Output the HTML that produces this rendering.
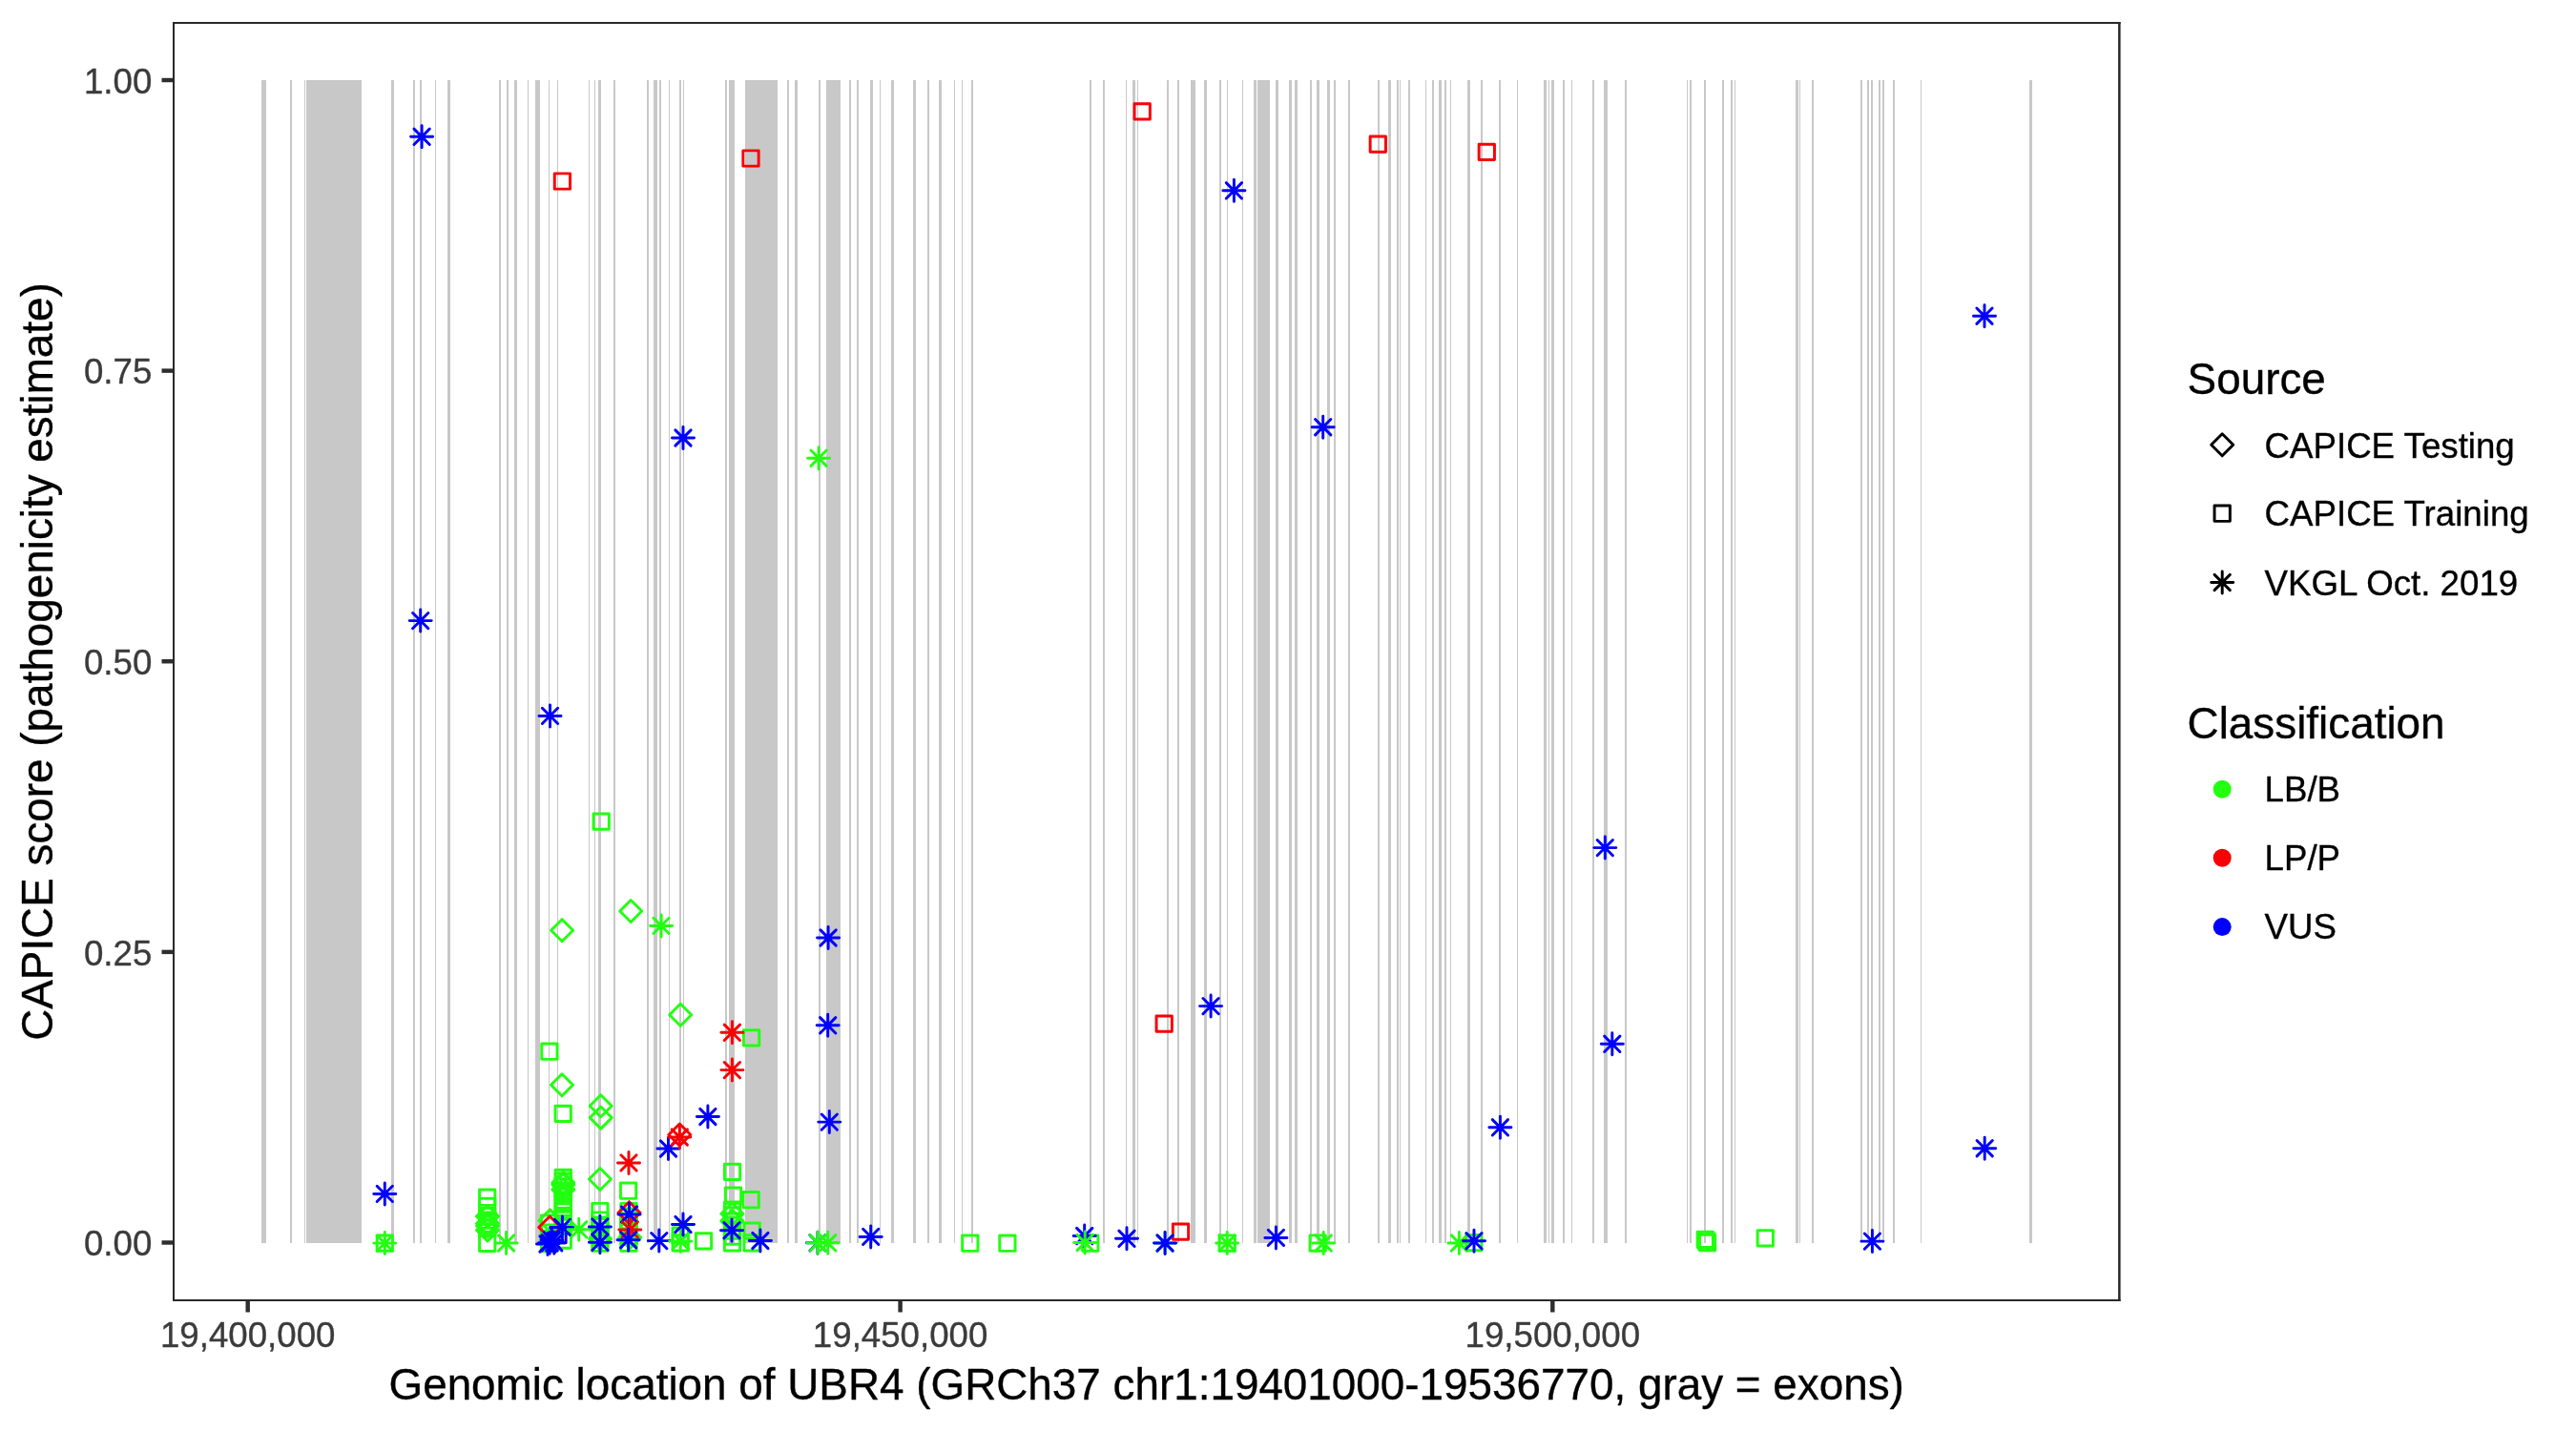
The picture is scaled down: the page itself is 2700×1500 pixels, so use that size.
<!DOCTYPE html>
<html><head><meta charset="utf-8"><title>CAPICE UBR4</title>
<style>html,body{margin:0;padding:0;background:#fff;}svg{display:block;will-change:transform;}text{font-family:"Liberation Sans",Arial,Helvetica,sans-serif;stroke-width:0.35px;stroke-linejoin:round;}.tl text{stroke:#3b3b3b;} .bk text, text.bk{stroke:#000;}</style></head><body>
<svg width="2700" height="1500" viewBox="0 0 2700 1500">
<rect x="0" y="0" width="2700" height="1500" fill="#ffffff"/>
<defs><clipPath id="pc"><rect x="181.0" y="23.0" width="2041.5" height="1341.0"/></clipPath></defs>
<g fill="#c8c8c8" shape-rendering="crispEdges">
<rect x="274.2" y="84" width="4.6" height="1218.5"/>
<rect x="304.1" y="84" width="1.7" height="1218.5"/>
<rect x="319" y="84" width="0.9" height="1218.5"/>
<rect x="321.2" y="84" width="57.6" height="1218.5"/>
<rect x="410" y="84" width="3" height="1218.5"/>
<rect x="433" y="84" width="2" height="1218.5"/>
<rect x="440" y="84" width="2" height="1218.5"/>
<rect x="456" y="84" width="1" height="1218.5"/>
<rect x="469" y="84" width="3" height="1218.5"/>
<rect x="523" y="84" width="2" height="1218.5"/>
<rect x="531" y="84" width="2" height="1218.5"/>
<rect x="539" y="84" width="3" height="1218.5"/>
<rect x="553" y="84" width="1" height="1218.5"/>
<rect x="561" y="84" width="5" height="1218.5"/>
<rect x="575" y="84" width="1" height="1218.5"/>
<rect x="584" y="84" width="1" height="1218.5"/>
<rect x="617" y="84" width="1" height="1218.5"/>
<rect x="623" y="84" width="1" height="1218.5"/>
<rect x="627" y="84" width="3" height="1218.5"/>
<rect x="643" y="84" width="2" height="1218.5"/>
<rect x="678" y="84" width="2" height="1218.5"/>
<rect x="685" y="84" width="4" height="1218.5"/>
<rect x="691" y="84" width="2" height="1218.5"/>
<rect x="701" y="84" width="1" height="1218.5"/>
<rect x="712" y="84" width="2" height="1218.5"/>
<rect x="716" y="84" width="1" height="1218.5"/>
<rect x="760" y="84" width="2" height="1218.5"/>
<rect x="764" y="84" width="6" height="1218.5"/>
<rect x="781" y="84" width="34" height="1218.5"/>
<rect x="825" y="84" width="2" height="1218.5"/>
<rect x="833" y="84" width="3" height="1218.5"/>
<rect x="858" y="84" width="2" height="1218.5"/>
<rect x="866" y="84" width="15" height="1218.5"/>
<rect x="890" y="84" width="2" height="1218.5"/>
<rect x="898" y="84" width="2" height="1218.5"/>
<rect x="912" y="84" width="3" height="1218.5"/>
<rect x="922" y="84" width="1" height="1218.5"/>
<rect x="934" y="84" width="3" height="1218.5"/>
<rect x="957" y="84" width="3" height="1218.5"/>
<rect x="972" y="84" width="2" height="1218.5"/>
<rect x="984" y="84" width="3" height="1218.5"/>
<rect x="1000" y="84" width="1" height="1218.5"/>
<rect x="1008" y="84" width="1" height="1218.5"/>
<rect x="1018" y="84" width="2" height="1218.5"/>
<rect x="1142" y="84" width="2" height="1218.5"/>
<rect x="1156" y="84" width="2" height="1218.5"/>
<rect x="1180" y="84" width="1" height="1218.5"/>
<rect x="1187" y="84" width="3" height="1218.5"/>
<rect x="1192" y="84" width="1" height="1218.5"/>
<rect x="1223" y="84" width="2" height="1218.5"/>
<rect x="1234" y="84" width="2" height="1218.5"/>
<rect x="1248" y="84" width="5" height="1218.5"/>
<rect x="1262" y="84" width="3" height="1218.5"/>
<rect x="1278" y="84" width="2" height="1218.5"/>
<rect x="1286" y="84" width="1" height="1218.5"/>
<rect x="1302" y="84" width="1" height="1218.5"/>
<rect x="1314" y="84" width="3" height="1218.5"/>
<rect x="1318" y="84" width="13" height="1218.5"/>
<rect x="1337" y="84" width="3" height="1218.5"/>
<rect x="1351" y="84" width="3" height="1218.5"/>
<rect x="1357" y="84" width="3" height="1218.5"/>
<rect x="1373" y="84" width="2" height="1218.5"/>
<rect x="1380" y="84" width="3" height="1218.5"/>
<rect x="1391" y="84" width="3" height="1218.5"/>
<rect x="1398" y="84" width="2" height="1218.5"/>
<rect x="1413" y="84" width="2" height="1218.5"/>
<rect x="1444" y="84" width="2" height="1218.5"/>
<rect x="1455" y="84" width="3" height="1218.5"/>
<rect x="1464" y="84" width="2" height="1218.5"/>
<rect x="1467" y="84" width="1" height="1218.5"/>
<rect x="1476" y="84" width="2" height="1218.5"/>
<rect x="1494" y="84" width="1" height="1218.5"/>
<rect x="1501" y="84" width="2" height="1218.5"/>
<rect x="1508" y="84" width="3" height="1218.5"/>
<rect x="1514" y="84" width="2" height="1218.5"/>
<rect x="1520" y="84" width="1" height="1218.5"/>
<rect x="1538" y="84" width="3" height="1218.5"/>
<rect x="1552" y="84" width="2" height="1218.5"/>
<rect x="1571" y="84" width="2" height="1218.5"/>
<rect x="1590" y="84" width="1" height="1218.5"/>
<rect x="1618" y="84" width="3" height="1218.5"/>
<rect x="1623" y="84" width="1" height="1218.5"/>
<rect x="1626" y="84" width="3" height="1218.5"/>
<rect x="1638" y="84" width="2" height="1218.5"/>
<rect x="1647" y="84" width="1" height="1218.5"/>
<rect x="1669" y="84" width="2" height="1218.5"/>
<rect x="1681" y="84" width="4" height="1218.5"/>
<rect x="1703" y="84" width="2" height="1218.5"/>
<rect x="1768" y="84" width="1" height="1218.5"/>
<rect x="1771" y="84" width="2" height="1218.5"/>
<rect x="1786" y="84" width="2" height="1218.5"/>
<rect x="1805" y="84" width="2" height="1218.5"/>
<rect x="1814" y="84" width="2" height="1218.5"/>
<rect x="1818" y="84" width="1" height="1218.5"/>
<rect x="1882" y="84" width="3" height="1218.5"/>
<rect x="1886" y="84" width="1" height="1218.5"/>
<rect x="1899" y="84" width="2" height="1218.5"/>
<rect x="1950" y="84" width="2" height="1218.5"/>
<rect x="1957" y="84" width="2" height="1218.5"/>
<rect x="1961" y="84" width="2" height="1218.5"/>
<rect x="1969" y="84" width="2" height="1218.5"/>
<rect x="1973" y="84" width="2" height="1218.5"/>
<rect x="1984" y="84" width="2" height="1218.5"/>
<rect x="2013" y="84" width="1" height="1218.5"/>
<rect x="2127" y="84" width="3" height="1218.5"/>
</g>
<g clip-path="url(#pc)" fill="none" stroke-width="2.95" stroke-linecap="round" stroke-linejoin="round">
<rect x="581.25" y="181.85" width="16.29" height="16.29" stroke="#f80004"/>
<rect x="778.86" y="157.85" width="16.29" height="16.29" stroke="#f80004"/>
<rect x="1189.06" y="108.66" width="16.29" height="16.29" stroke="#f80004"/>
<rect x="1436.15" y="143.05" width="16.29" height="16.29" stroke="#f80004"/>
<rect x="1550.15" y="151.16" width="16.29" height="16.29" stroke="#f80004"/>
<rect x="622.06" y="852.96" width="16.29" height="16.29" stroke="#22ff11"/>
<rect x="1212.06" y="1064.95" width="16.29" height="16.29" stroke="#f80004"/>
<rect x="779.46" y="1079.76" width="16.29" height="16.29" stroke="#22ff11"/>
<rect x="567.75" y="1094.06" width="16.29" height="16.29" stroke="#22ff11"/>
<rect x="582.06" y="1159.26" width="16.29" height="16.29" stroke="#22ff11"/>
<rect x="395.16" y="1294.95" width="16.29" height="16.29" stroke="#22ff11"/>
<rect x="502.56" y="1247.06" width="16.29" height="16.29" stroke="#22ff11"/>
<rect x="502.56" y="1256.26" width="16.29" height="16.29" stroke="#22ff11"/>
<rect x="502.56" y="1266.36" width="16.29" height="16.29" stroke="#22ff11"/>
<rect x="502.56" y="1274.86" width="16.29" height="16.29" stroke="#22ff11"/>
<rect x="502.56" y="1295.15" width="16.29" height="16.29" stroke="#22ff11"/>
<rect x="582.15" y="1226.26" width="16.29" height="16.29" stroke="#22ff11"/>
<rect x="582.15" y="1235.86" width="16.29" height="16.29" stroke="#22ff11"/>
<rect x="582.15" y="1243.86" width="16.29" height="16.29" stroke="#22ff11"/>
<rect x="582.15" y="1249.86" width="16.29" height="16.29" stroke="#22ff11"/>
<rect x="582.15" y="1257.86" width="16.29" height="16.29" stroke="#22ff11"/>
<rect x="582.15" y="1267.86" width="16.29" height="16.29" stroke="#22ff11"/>
<rect x="582.15" y="1276.86" width="16.29" height="16.29" stroke="#22ff11"/>
<rect x="582.15" y="1291.86" width="16.29" height="16.29" stroke="#22ff11"/>
<rect x="567.36" y="1273.86" width="16.29" height="16.29" stroke="#22ff11"/>
<rect x="567.36" y="1283.86" width="16.29" height="16.29" stroke="#22ff11"/>
<rect x="567.36" y="1295.36" width="16.29" height="16.29" stroke="#22ff11"/>
<rect x="576.86" y="1286.36" width="16.29" height="16.29" stroke="#0000ff"/>
<rect x="620.75" y="1261.36" width="16.29" height="16.29" stroke="#22ff11"/>
<rect x="620.75" y="1270.86" width="16.29" height="16.29" stroke="#22ff11"/>
<rect x="620.75" y="1281.86" width="16.29" height="16.29" stroke="#22ff11"/>
<rect x="620.75" y="1295.06" width="16.29" height="16.29" stroke="#22ff11"/>
<rect x="650.46" y="1240.06" width="16.29" height="16.29" stroke="#22ff11"/>
<rect x="650.86" y="1261.36" width="16.29" height="16.29" stroke="#22ff11"/>
<rect x="650.86" y="1271.86" width="16.29" height="16.29" stroke="#22ff11"/>
<rect x="650.86" y="1281.86" width="16.29" height="16.29" stroke="#22ff11"/>
<rect x="650.86" y="1295.06" width="16.29" height="16.29" stroke="#22ff11"/>
<rect x="705.06" y="1286.95" width="16.29" height="16.29" stroke="#22ff11"/>
<rect x="705.06" y="1294.65" width="16.29" height="16.29" stroke="#22ff11"/>
<rect x="729.36" y="1292.65" width="16.29" height="16.29" stroke="#22ff11"/>
<rect x="759.36" y="1220.26" width="16.29" height="16.29" stroke="#22ff11"/>
<rect x="760.36" y="1244.95" width="16.29" height="16.29" stroke="#22ff11"/>
<rect x="759.36" y="1259.95" width="16.29" height="16.29" stroke="#22ff11"/>
<rect x="759.36" y="1271.86" width="16.29" height="16.29" stroke="#22ff11"/>
<rect x="759.36" y="1281.86" width="16.29" height="16.29" stroke="#22ff11"/>
<rect x="759.36" y="1294.76" width="16.29" height="16.29" stroke="#22ff11"/>
<rect x="779.06" y="1249.56" width="16.29" height="16.29" stroke="#22ff11"/>
<rect x="779.96" y="1281.95" width="16.29" height="16.29" stroke="#22ff11"/>
<rect x="779.96" y="1294.76" width="16.29" height="16.29" stroke="#22ff11"/>
<rect x="1008.65" y="1295.06" width="16.29" height="16.29" stroke="#22ff11"/>
<rect x="1047.76" y="1295.06" width="16.29" height="16.29" stroke="#22ff11"/>
<rect x="1134.65" y="1295.06" width="16.29" height="16.29" stroke="#22ff11"/>
<rect x="1229.36" y="1282.95" width="16.29" height="16.29" stroke="#f80004"/>
<rect x="1278.06" y="1294.86" width="16.29" height="16.29" stroke="#22ff11"/>
<rect x="1373.06" y="1294.86" width="16.29" height="16.29" stroke="#22ff11"/>
<rect x="1536.65" y="1294.36" width="16.29" height="16.29" stroke="#22ff11"/>
<rect x="1779.15" y="1291.26" width="16.29" height="16.29" stroke="#22ff11"/>
<rect x="1781.45" y="1294.36" width="16.29" height="16.29" stroke="#22ff11"/>
<rect x="1780.45" y="1292.86" width="16.29" height="16.29" stroke="#22ff11"/>
<rect x="1842.15" y="1289.65" width="16.29" height="16.29" stroke="#22ff11"/>
<rect x="502.56" y="1270.86" width="16.29" height="16.29" stroke="#22ff11"/>
<rect x="502.56" y="1278.86" width="16.29" height="16.29" stroke="#22ff11"/>
<rect x="582.15" y="1229.86" width="16.29" height="16.29" stroke="#22ff11"/>
<rect x="582.15" y="1239.86" width="16.29" height="16.29" stroke="#22ff11"/>
<rect x="582.15" y="1253.86" width="16.29" height="16.29" stroke="#22ff11"/>
<rect x="582.15" y="1261.86" width="16.29" height="16.29" stroke="#22ff11"/>
<rect x="620.75" y="1275.86" width="16.29" height="16.29" stroke="#22ff11"/>
<rect x="620.75" y="1287.86" width="16.29" height="16.29" stroke="#22ff11"/>
<rect x="650.86" y="1266.86" width="16.29" height="16.29" stroke="#22ff11"/>
<rect x="650.86" y="1276.86" width="16.29" height="16.29" stroke="#22ff11"/>
<rect x="650.86" y="1287.86" width="16.29" height="16.29" stroke="#22ff11"/>
<rect x="759.36" y="1265.86" width="16.29" height="16.29" stroke="#22ff11"/>
<rect x="759.36" y="1287.86" width="16.29" height="16.29" stroke="#22ff11"/>
<path d="M589.10 963.68L600.62 975.20L589.10 986.72L577.58 975.20Z" stroke="#22ff11"/>
<path d="M661.20 943.48L672.72 955.00L661.20 966.52L649.68 955.00Z" stroke="#22ff11"/>
<path d="M713.20 1052.18L724.72 1063.70L713.20 1075.22L701.68 1063.70Z" stroke="#22ff11"/>
<path d="M589.00 1125.78L600.52 1137.30L589.00 1148.82L577.48 1137.30Z" stroke="#22ff11"/>
<path d="M629.70 1147.68L641.22 1159.20L629.70 1170.72L618.18 1159.20Z" stroke="#22ff11"/>
<path d="M629.80 1160.08L641.32 1171.60L629.80 1183.12L618.28 1171.60Z" stroke="#22ff11"/>
<path d="M712.30 1177.98L723.82 1189.50L712.30 1201.02L700.78 1189.50Z" stroke="#f80004"/>
<path d="M511.00 1263.48L522.52 1275.00L511.00 1286.52L499.48 1275.00Z" stroke="#22ff11"/>
<path d="M511.00 1270.98L522.52 1282.50L511.00 1294.02L499.48 1282.50Z" stroke="#22ff11"/>
<path d="M511.00 1277.98L522.52 1289.50L511.00 1301.02L499.48 1289.50Z" stroke="#22ff11"/>
<path d="M590.30 1228.38L601.82 1239.90L590.30 1251.42L578.78 1239.90Z" stroke="#22ff11"/>
<path d="M590.30 1230.48L601.82 1242.00L590.30 1253.52L578.78 1242.00Z" stroke="#22ff11"/>
<path d="M576.50 1267.88L588.02 1279.40L576.50 1290.92L564.98 1279.40Z" stroke="#22ff11"/>
<path d="M576.20 1274.98L587.72 1286.50L576.20 1298.02L564.68 1286.50Z" stroke="#f80004"/>
<path d="M628.90 1224.48L640.42 1236.00L628.90 1247.52L617.38 1236.00Z" stroke="#22ff11"/>
<path d="M629.10 1286.98L640.62 1298.50L629.10 1310.02L617.58 1298.50Z" stroke="#22ff11"/>
<path d="M660.30 1285.68L671.82 1297.20L660.30 1308.72L648.78 1297.20Z" stroke="#22ff11"/>
<path d="M659.50 1259.68L671.02 1271.20L659.50 1282.72L647.98 1271.20Z" stroke="#f80004"/>
<path d="M767.40 1260.78L778.92 1272.30L767.40 1283.82L755.88 1272.30Z" stroke="#22ff11"/>
<path d="M767.40 1268.38L778.92 1279.90L767.40 1291.42L755.88 1279.90Z" stroke="#22ff11"/>
<path d="M511.00 1273.48L522.52 1285.00L511.00 1296.52L499.48 1285.00Z" stroke="#22ff11"/>
<path d="M590.30 1235.48L601.82 1247.00L590.30 1258.52L578.78 1247.00Z" stroke="#22ff11"/>
<path d="M433.96 135.16L450.25 151.45M433.96 151.45L450.25 135.16M430.58 143.30L453.62 143.30M442.10 131.78L442.10 154.82" stroke="#0000ff"/>
<path d="M1285.26 191.66L1301.55 207.95M1285.26 207.95L1301.55 191.66M1281.88 199.80L1304.92 199.80M1293.40 188.28L1293.40 211.32" stroke="#0000ff"/>
<path d="M2071.86 323.06L2088.14 339.34M2071.86 339.34L2088.14 323.06M2068.48 331.20L2091.52 331.20M2080.00 319.68L2080.00 342.72" stroke="#0000ff"/>
<path d="M707.86 450.86L724.14 467.14M707.86 467.14L724.14 450.86M704.48 459.00L727.52 459.00M716.00 447.48L716.00 470.52" stroke="#0000ff"/>
<path d="M849.96 472.06L866.25 488.34M849.96 488.34L866.25 472.06M846.58 480.20L869.62 480.20M858.10 468.68L858.10 491.72" stroke="#22ff11"/>
<path d="M1378.56 439.56L1394.85 455.84M1378.56 455.84L1394.85 439.56M1375.18 447.70L1398.22 447.70M1386.70 436.18L1386.70 459.22" stroke="#0000ff"/>
<path d="M432.56 642.46L448.84 658.75M432.56 658.75L448.84 642.46M429.18 650.60L452.22 650.60M440.70 639.08L440.70 662.12" stroke="#0000ff"/>
<path d="M568.36 742.25L584.64 758.54M568.36 758.54L584.64 742.25M564.98 750.40L588.02 750.40M576.50 738.88L576.50 761.92" stroke="#0000ff"/>
<path d="M1674.15 880.46L1690.44 896.75M1674.15 896.75L1690.44 880.46M1670.78 888.60L1693.82 888.60M1682.30 877.08L1682.30 900.12" stroke="#0000ff"/>
<path d="M684.96 962.25L701.25 978.54M684.96 978.54L701.25 962.25M681.58 970.40L704.62 970.40M693.10 958.88L693.10 981.92" stroke="#22ff11"/>
<path d="M859.96 974.86L876.25 991.14M859.96 991.14L876.25 974.86M856.58 983.00L879.62 983.00M868.10 971.48L868.10 994.52" stroke="#0000ff"/>
<path d="M1260.95 1046.45L1277.24 1062.74M1260.95 1062.74L1277.24 1046.45M1257.58 1054.60L1280.62 1054.60M1269.10 1043.08L1269.10 1066.12" stroke="#0000ff"/>
<path d="M859.56 1066.65L875.85 1082.94M859.56 1082.94L875.85 1066.65M856.18 1074.80L879.22 1074.80M867.70 1063.28L867.70 1086.32" stroke="#0000ff"/>
<path d="M759.25 1074.15L775.54 1090.44M759.25 1090.44L775.54 1074.15M755.88 1082.30L778.92 1082.30M767.40 1070.78L767.40 1093.82" stroke="#f80004"/>
<path d="M1681.65 1086.15L1697.94 1102.44M1681.65 1102.44L1697.94 1086.15M1678.28 1094.30L1701.32 1094.30M1689.80 1082.78L1689.80 1105.82" stroke="#0000ff"/>
<path d="M759.25 1113.45L775.54 1129.74M759.25 1129.74L775.54 1113.45M755.88 1121.60L778.92 1121.60M767.40 1110.08L767.40 1133.12" stroke="#f80004"/>
<path d="M733.75 1162.36L750.04 1178.64M733.75 1178.64L750.04 1162.36M730.38 1170.50L753.42 1170.50M741.90 1158.98L741.90 1182.02" stroke="#0000ff"/>
<path d="M861.15 1167.95L877.44 1184.24M861.15 1184.24L877.44 1167.95M857.78 1176.10L880.82 1176.10M869.30 1164.58L869.30 1187.62" stroke="#0000ff"/>
<path d="M1564.26 1173.65L1580.55 1189.94M1564.26 1189.94L1580.55 1173.65M1560.88 1181.80L1583.92 1181.80M1572.40 1170.28L1572.40 1193.32" stroke="#0000ff"/>
<path d="M2072.05 1195.56L2088.34 1211.85M2072.05 1211.85L2088.34 1195.56M2068.68 1203.70L2091.72 1203.70M2080.20 1192.18L2080.20 1215.22" stroke="#0000ff"/>
<path d="M650.86 1210.76L667.14 1227.05M650.86 1227.05L667.14 1210.76M647.48 1218.90L670.52 1218.90M659.00 1207.38L659.00 1230.42" stroke="#f80004"/>
<path d="M692.36 1195.86L708.64 1212.14M692.36 1212.14L708.64 1195.86M688.98 1204.00L712.02 1204.00M700.50 1192.48L700.50 1215.52" stroke="#0000ff"/>
<path d="M704.15 1183.86L720.44 1200.14M704.15 1200.14L720.44 1183.86M700.78 1192.00L723.82 1192.00M712.30 1180.48L712.30 1203.52" stroke="#f80004"/>
<path d="M395.16 1243.26L411.44 1259.55M395.16 1259.55L411.44 1243.26M391.78 1251.40L414.82 1251.40M403.30 1239.88L403.30 1262.92" stroke="#0000ff"/>
<path d="M395.16 1294.95L411.44 1311.24M395.16 1311.24L411.44 1294.95M391.78 1303.10L414.82 1303.10M403.30 1291.58L403.30 1314.62" stroke="#22ff11"/>
<path d="M522.46 1294.86L538.75 1311.14M522.46 1311.14L538.75 1294.86M519.08 1303.00L542.12 1303.00M530.60 1291.48L530.60 1314.52" stroke="#22ff11"/>
<path d="M581.25 1278.36L597.54 1294.64M581.25 1294.64L597.54 1278.36M577.88 1286.50L600.92 1286.50M589.40 1274.98L589.40 1298.02" stroke="#0000ff"/>
<path d="M568.06 1294.56L584.35 1310.85M568.06 1310.85L584.35 1294.56M564.68 1302.70L587.72 1302.70M576.20 1291.18L576.20 1314.22" stroke="#0000ff"/>
<path d="M572.65 1294.56L588.94 1310.85M572.65 1310.85L588.94 1294.56M569.28 1302.70L592.32 1302.70M580.80 1291.18L580.80 1314.22" stroke="#0000ff"/>
<path d="M598.56 1280.65L614.85 1296.94M598.56 1296.94L614.85 1280.65M595.18 1288.80L618.22 1288.80M606.70 1277.28L606.70 1300.32" stroke="#22ff11"/>
<path d="M620.75 1277.76L637.04 1294.05M620.75 1294.05L637.04 1277.76M617.38 1285.90L640.42 1285.90M628.90 1274.38L628.90 1297.42" stroke="#0000ff"/>
<path d="M620.75 1294.15L637.04 1310.44M620.75 1310.44L637.04 1294.15M617.38 1302.30L640.42 1302.30M628.90 1290.78L628.90 1313.82" stroke="#0000ff"/>
<path d="M651.36 1264.76L667.64 1281.05M651.36 1281.05L667.64 1264.76M647.98 1272.90L671.02 1272.90M659.50 1261.38L659.50 1284.42" stroke="#0000ff"/>
<path d="M652.15 1280.76L668.44 1297.05M652.15 1297.05L668.44 1280.76M648.78 1288.90L671.82 1288.90M660.30 1277.38L660.30 1300.42" stroke="#f80004"/>
<path d="M650.46 1291.56L666.75 1307.85M650.46 1307.85L666.75 1291.56M647.08 1299.70L670.12 1299.70M658.60 1288.18L658.60 1311.22" stroke="#0000ff"/>
<path d="M682.65 1292.45L698.94 1308.74M682.65 1308.74L698.94 1292.45M679.28 1300.60L702.32 1300.60M690.80 1289.08L690.80 1312.12" stroke="#0000ff"/>
<path d="M705.06 1292.95L721.35 1309.24M705.06 1309.24L721.35 1292.95M701.68 1301.10L724.72 1301.10M713.20 1289.58L713.20 1312.62" stroke="#22ff11"/>
<path d="M707.86 1275.36L724.14 1291.64M707.86 1291.64L724.14 1275.36M704.48 1283.50L727.52 1283.50M716.00 1271.98L716.00 1295.02" stroke="#0000ff"/>
<path d="M758.86 1281.56L775.14 1297.85M758.86 1297.85L775.14 1281.56M755.48 1289.70L778.52 1289.70M767.00 1278.18L767.00 1301.22" stroke="#0000ff"/>
<path d="M788.75 1292.36L805.04 1308.64M788.75 1308.64L805.04 1292.36M785.38 1300.50L808.42 1300.50M796.90 1288.98L796.90 1312.02" stroke="#0000ff"/>
<path d="M848.86 1294.65L865.14 1310.94M848.86 1310.94L865.14 1294.65M845.48 1302.80L868.52 1302.80M857.00 1291.28L857.00 1314.32" stroke="#0000ff"/>
<path d="M849.25 1294.65L865.54 1310.94M849.25 1310.94L865.54 1294.65M845.88 1302.80L868.92 1302.80M857.40 1291.28L857.40 1314.32" stroke="#22ff11"/>
<path d="M859.56 1294.65L875.85 1310.94M859.56 1310.94L875.85 1294.65M856.18 1302.80L879.22 1302.80M867.70 1291.28L867.70 1314.32" stroke="#22ff11"/>
<path d="M904.56 1288.26L920.85 1304.55M904.56 1304.55L920.85 1288.26M901.18 1296.40L924.22 1296.40M912.70 1284.88L912.70 1307.92" stroke="#0000ff"/>
<path d="M1128.56 1287.36L1144.85 1303.64M1128.56 1303.64L1144.85 1287.36M1125.18 1295.50L1148.22 1295.50M1136.70 1283.98L1136.70 1307.02" stroke="#0000ff"/>
<path d="M1129.06 1294.36L1145.35 1310.64M1129.06 1310.64L1145.35 1294.36M1125.68 1302.50L1148.72 1302.50M1137.20 1290.98L1137.20 1314.02" stroke="#22ff11"/>
<path d="M1172.86 1290.15L1189.14 1306.44M1172.86 1306.44L1189.14 1290.15M1169.48 1298.30L1192.52 1298.30M1181.00 1286.78L1181.00 1309.82" stroke="#0000ff"/>
<path d="M1212.95 1294.86L1229.24 1311.14M1212.95 1311.14L1229.24 1294.86M1209.58 1303.00L1232.62 1303.00M1221.10 1291.48L1221.10 1314.52" stroke="#22ff11"/>
<path d="M1212.95 1294.86L1229.24 1311.14M1212.95 1311.14L1229.24 1294.86M1209.58 1303.00L1232.62 1303.00M1221.10 1291.48L1221.10 1314.52" stroke="#0000ff"/>
<path d="M1278.06 1294.86L1294.35 1311.14M1278.06 1311.14L1294.35 1294.86M1274.68 1303.00L1297.72 1303.00M1286.20 1291.48L1286.20 1314.52" stroke="#22ff11"/>
<path d="M1329.26 1289.26L1345.55 1305.55M1329.26 1305.55L1345.55 1289.26M1325.88 1297.40L1348.92 1297.40M1337.40 1285.88L1337.40 1308.92" stroke="#0000ff"/>
<path d="M1379.06 1294.86L1395.35 1311.14M1379.06 1311.14L1395.35 1294.86M1375.68 1303.00L1398.72 1303.00M1387.20 1291.48L1387.20 1314.52" stroke="#22ff11"/>
<path d="M1521.26 1294.86L1537.55 1311.14M1521.26 1311.14L1537.55 1294.86M1517.88 1303.00L1540.92 1303.00M1529.40 1291.48L1529.40 1314.52" stroke="#22ff11"/>
<path d="M1536.86 1292.65L1553.14 1308.94M1536.86 1308.94L1553.14 1292.65M1533.48 1300.80L1556.52 1300.80M1545.00 1289.28L1545.00 1312.32" stroke="#0000ff"/>
<path d="M1954.26 1292.95L1970.55 1309.24M1954.26 1309.24L1970.55 1292.95M1950.88 1301.10L1973.92 1301.10M1962.40 1289.58L1962.40 1312.62" stroke="#0000ff"/>
<path d="M570.36 1291.86L586.64 1308.14M570.36 1308.14L586.64 1291.86M566.98 1300.00L590.02 1300.00M578.50 1288.48L578.50 1311.52" stroke="#0000ff"/>
<path d="M565.86 1295.86L582.14 1312.14M565.86 1312.14L582.14 1295.86M562.48 1304.00L585.52 1304.00M574.00 1292.48L574.00 1315.52" stroke="#0000ff"/>
</g>
<g fill="#292929"><rect x="181" y="23" width="2041.6" height="2"/><rect x="181" y="1362" width="2041.6" height="2"/><rect x="181" y="23" width="2" height="1341"/><rect x="2220.1" y="23" width="2.5" height="1341"/></g>
<g stroke="#2e2e2e" stroke-width="4.44">
<line x1="169.5" y1="84.00" x2="181" y2="84.00"/>
<line x1="169.5" y1="388.62" x2="181" y2="388.62"/>
<line x1="169.5" y1="693.25" x2="181" y2="693.25"/>
<line x1="169.5" y1="997.88" x2="181" y2="997.88"/>
<line x1="169.5" y1="1302.50" x2="181" y2="1302.50"/>
<line x1="259.70" y1="1364" x2="259.70" y2="1375.5"/>
<line x1="943.60" y1="1364" x2="943.60" y2="1375.5"/>
<line x1="1627.30" y1="1364" x2="1627.30" y2="1375.5"/>
</g>
<g class="tl" fill="#3b3b3b" font-size="36.67px">
<text x="159.3" y="97.80" text-anchor="end">1.00</text>
<text x="159.3" y="402.43" text-anchor="end">0.75</text>
<text x="159.3" y="707.05" text-anchor="end">0.50</text>
<text x="159.3" y="1011.67" text-anchor="end">0.25</text>
<text x="159.3" y="1316.30" text-anchor="end">0.00</text>
<text x="259.70" y="1412" text-anchor="middle">19,400,000</text>
<text x="943.60" y="1412" text-anchor="middle">19,450,000</text>
<text x="1627.30" y="1412" text-anchor="middle">19,500,000</text>
</g>
<text class="bk" x="1201.7" y="1467" text-anchor="middle" font-size="45.83px" fill="#000">Genomic location of UBR4 (GRCh37 chr1:19401000-19536770, gray = exons)</text>
<text class="bk" transform="translate(54.7 693.5) rotate(-90)" x="0" y="0" text-anchor="middle" font-size="45.83px" fill="#000">CAPICE score (pathogenicity estimate)</text>
<g class="bk" fill="#000">
<text x="2292.6" y="412.9" font-size="45.83px">Source</text>
<text x="2373.6" y="479.9" font-size="36.67px">CAPICE Testing</text>
<text x="2373.6" y="551.4" font-size="36.67px">CAPICE Training</text>
<text x="2373.6" y="623.6" font-size="36.67px">VKGL Oct. 2019</text>
<text x="2373.6" y="840.4" font-size="36.67px">LB/B</text>
<text x="2373.6" y="912.3" font-size="36.67px">LP/P</text>
<text x="2373.6" y="984.0" font-size="36.67px">VUS</text>
<text x="2292.6" y="773.5" font-size="45.83px">Classification</text>
</g>
<g fill="none" stroke-width="2.95" stroke-linecap="round" stroke-linejoin="round">
<path d="M2329.20 454.78L2340.72 466.30L2329.20 477.82L2317.68 466.30Z" stroke="#000000"/>
<rect x="2321.05" y="530.06" width="16.29" height="16.29" stroke="#000000"/>
<path d="M2321.05 602.36L2337.34 618.64M2321.05 618.64L2337.34 602.36M2317.68 610.50L2340.72 610.50M2329.20 598.98L2329.20 622.02" stroke="#000000"/>
</g>
<circle cx="2329.2" cy="827.3" r="9.5" fill="#22ff11"/>
<circle cx="2329.2" cy="899.2" r="9.5" fill="#f80004"/>
<circle cx="2329.2" cy="971.6" r="9.5" fill="#0000ff"/>
</svg></body></html>
